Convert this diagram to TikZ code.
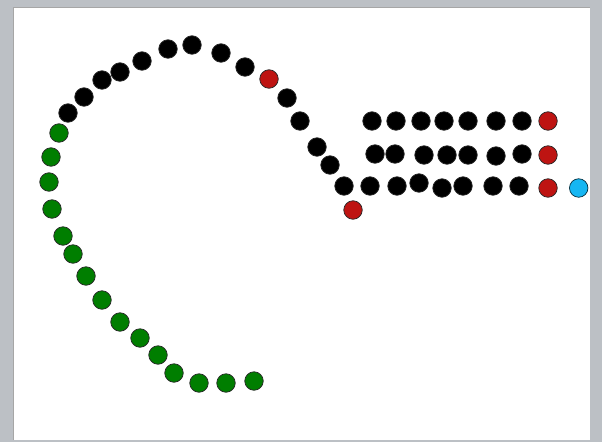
\documentclass[tikz,border=0pt]{standalone}
\usepackage{tikz}
\usetikzlibrary{positioning}

\definecolor{framegray}{RGB}{188,192,197}
\definecolor{dotgreen}{RGB}{0,126,0}
\definecolor{dotred}{RGB}{190,20,18}
\definecolor{dotblue}{RGB}{22,182,242}

\begin{document}
\begin{tikzpicture}[x=1pt, y=-1pt,
    dot/.style={circle, draw=black!85, line width=0.7pt, minimum size=18.5pt, inner sep=0pt},
    blackdot/.style={dot, fill=black},
    greendot/.style={dot, fill=dotgreen},
    reddot/.style={dot, fill=dotred},
    bluedot/.style={dot, fill=dotblue, draw=black!75!dotblue}]
                % Slide frame
                \fill[framegray] (0,0) rectangle (602,442);
                \fill[white] (13,7.5) rectangle (590,440);
                \draw[black!35, line width=0.6pt] (13,440) -- (13,7.5) -- (590,7.5);
                \useasboundingbox (0,0) rectangle (602,442);
                
                % Black arc
                \foreach \x/\y [count=\i] in {68/113, 84/97, 102/80, 120/72, 142/61, 168/49,
                    192/45, 221/53, 245/67}
                    \node (arc\i) [blackdot] at (\x,\y) {};
                \node (turn) [reddot] at (269,79) {};
                \foreach \x/\y [count=\i] in {287/98, 300/121, 317/147, 330/165, 344/186}
                    \node (slope\i) [blackdot] at (\x,\y) {};
                
                % Green tail
                \foreach \x/\y [count=\i] in {59/133, 51/157, 49/182, 52/209, 63/236, 73/254,
                    86/276, 102/300, 120/322, 140/338, 158/355, 174/373, 199/383, 226/383, 254/381}
                    \node (tail\i) [greendot] at (\x,\y) {};
                
                % Red stub
                \node (stub) [reddot] at (353,210) {};
                
                % Rows
                \foreach \x/\y [count=\i] in {372/121, 396/121, 421/121, 444/121, 468/121,
                    496/121, 522/121}
                    \node (rowa\i) [blackdot] at (\x,\y) {};
                \node (enda) [reddot] at (548,121) {};
                \foreach \x/\y [count=\i] in {375/154, 395/154, 424/155, 447/155, 468/155,
                    496/156, 522/154}
                    \node (rowb\i) [blackdot] at (\x,\y) {};
                \node (endb) [reddot] at (548,155) {};
                \foreach \x/\y [count=\i] in {370/186, 397/186, 419/183, 442/188, 463/186,
                    493/186, 519/186}
                    \node (rowc\i) [blackdot] at (\x,\y) {};
                \node (endc) [reddot] at (548,188) {};
                
                % Blue head
                \node (head) [bluedot, right=11.5pt of endc] {};
            \end{tikzpicture}
\end{document}
